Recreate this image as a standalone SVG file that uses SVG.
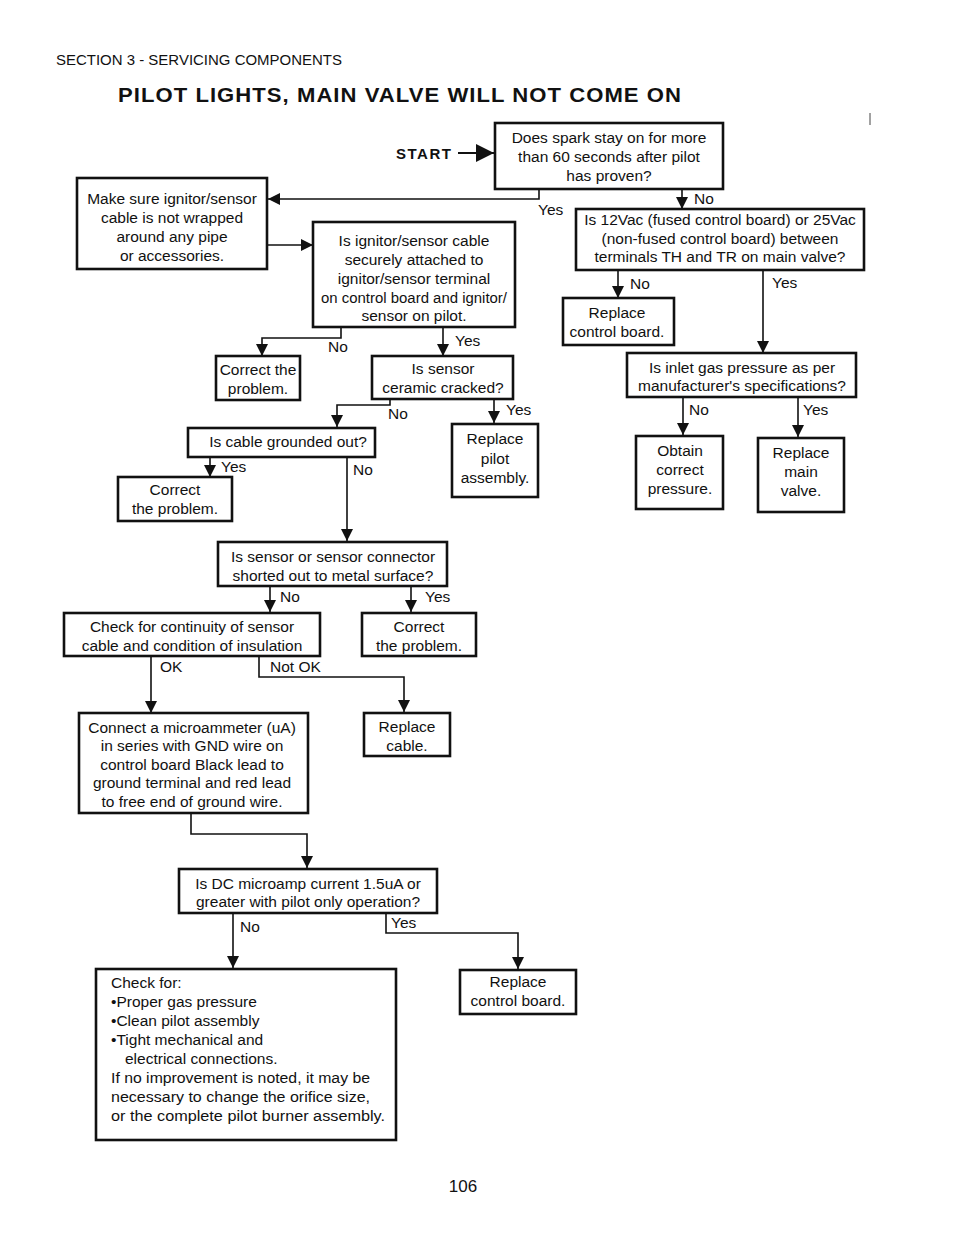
<svg xmlns="http://www.w3.org/2000/svg" width="954" height="1235" viewBox="0 0 954 1235">
<defs>
<marker id="ah" markerUnits="userSpaceOnUse" markerWidth="12" markerHeight="12" refX="12" refY="6" orient="auto">
<path d="M0,0 L12,6 L0,12 z" fill="#111"/>
</marker>
<marker id="ahb" markerUnits="userSpaceOnUse" markerWidth="18" markerHeight="18" refX="18" refY="9" orient="auto">
<path d="M0,0 L18,9 L0,18 z" fill="#111"/>
</marker>
<style>
text{font-family:"Liberation Sans",Arial,sans-serif;fill:#111;}
.t{font-size:15.5px;text-anchor:middle;}
.l{font-size:15.5px;}
.box{fill:#fff;stroke:#111;stroke-width:2.6;}
.c{fill:none;stroke:#111;stroke-width:1.6;marker-end:url(#ah);}
</style>
</defs>
<rect width="954" height="1235" fill="#fff"/>
<text x="56" y="65" style="font-size:14px" textLength="286" lengthAdjust="spacingAndGlyphs">SECTION 3 - SERVICING COMPONENTS</text>
<text x="118" y="102" style="font-size:21px;font-weight:bold;letter-spacing:1px" textLength="564" lengthAdjust="spacingAndGlyphs">PILOT LIGHTS, MAIN VALVE WILL NOT COME ON</text>
<line x1="870" y1="113" x2="870" y2="125" stroke="#444" stroke-width="1"/>
<text x="396" y="159" style="font-size:15px;font-weight:bold;letter-spacing:1.5px">START</text>

<g id="connectors">
<path class="c" d="M458,153 L494,153" style="marker-end:url(#ahb);stroke-width:2"/>
<path class="c" d="M539,189 L539,199 L268,199"/>
<path class="c" d="M268,245 L313,245"/>
<path class="c" d="M682,189 L682,209"/>
<path class="c" d="M618,270 L618,298"/>
<path class="c" d="M763,270 L763,353"/>
<path class="c" d="M683,397 L683,435"/>
<path class="c" d="M798,397 L798,437"/>
<path class="c" d="M341,327 L341,338 L262,338 L262,356"/>
<path class="c" d="M443,327 L443,356"/>
<path class="c" d="M390,399 L390,405 L337,405 L337,427"/>
<path class="c" d="M494,399 L494,423"/>
<path class="c" d="M210,457 L210,477"/>
<path class="c" d="M347,457 L347,541"/>
<path class="c" d="M270,586 L270,612"/>
<path class="c" d="M411,586 L411,612"/>
<path class="c" d="M151,656 L151,713"/>
<path class="c" d="M259,656 L259,677 L404,677 L404,712"/>
<path class="c" d="M191,813 L191,834 L307,834 L307,868"/>
<path class="c" d="M233,913 L233,968"/>
<path class="c" d="M386,913 L386,933 L518,933 L518,969"/>
</g>

<g id="n-spark">
<rect class="box" x="495" y="123" width="228" height="66"/>
<text class="t" x="609" y="143">Does spark stay on for more</text>
<text class="t" x="609" y="162">than 60 seconds after pilot</text>
<text class="t" x="609" y="181">has proven?</text>
</g>
<g id="n-makesure">
<rect class="box" x="77" y="178" width="190" height="91"/>
<text class="t" x="172" y="203.5">Make sure ignitor/sensor</text>
<text class="t" x="172" y="222.5">cable is not wrapped</text>
<text class="t" x="172" y="241.5">around any pipe</text>
<text class="t" x="172" y="260.5">or accessories.</text>
</g>
<g id="n-attached">
<rect class="box" x="313" y="222" width="202" height="105"/>
<text class="t" x="414" y="245.5">Is ignitor/sensor cable</text>
<text class="t" x="414" y="264.5">securely attached to</text>
<text class="t" x="414" y="283.5">ignitor/sensor terminal</text>
<text class="t" x="414" y="302.5" textLength="186" lengthAdjust="spacingAndGlyphs">on control board and ignitor/</text>
<text class="t" x="414" y="320.5">sensor on pilot.</text>
</g>
<g id="n-correct1">
<rect class="box" x="216" y="356" width="84" height="44"/>
<text class="t" x="258" y="374.5">Correct the</text>
<text class="t" x="258" y="393.5">problem.</text>
</g>
<g id="n-ceramic">
<rect class="box" x="372" y="356" width="141" height="43"/>
<text class="t" x="443" y="373.5">Is sensor</text>
<text class="t" x="443" y="392.5">ceramic cracked?</text>
</g>
<g id="n-grounded">
<rect class="box" x="188" y="428" width="187" height="29"/>
<text class="t" x="288" y="446.5">Is cable grounded out?</text>
</g>
<g id="n-replacepilot">
<rect class="box" x="452" y="424" width="86" height="73"/>
<text class="t" x="495" y="443.5">Replace</text>
<text class="t" x="495" y="463.5">pilot</text>
<text class="t" x="495" y="482.5">assembly.</text>
</g>
<g id="n-correct2">
<rect class="box" x="118" y="477" width="114" height="44"/>
<text class="t" x="175" y="494.5">Correct</text>
<text class="t" x="175" y="513.5">the problem.</text>
</g>
<g id="n-shorted">
<rect class="box" x="218" y="542" width="229" height="44"/>
<text class="t" x="333" y="561.5">Is sensor or sensor  connector</text>
<text class="t" x="333" y="580.5">shorted out to metal surface?</text>
</g>
<g id="n-continuity">
<rect class="box" x="64" y="613" width="256" height="43"/>
<text class="t" x="192" y="631.5">Check for continuity of sensor</text>
<text class="t" x="192" y="650.5">cable and condition of insulation</text>
</g>
<g id="n-correct3">
<rect class="box" x="362" y="613" width="114" height="43"/>
<text class="t" x="419" y="631.5">Correct</text>
<text class="t" x="419" y="650.5">the problem.</text>
</g>
<g id="n-connect">
<rect class="box" x="79" y="713" width="229" height="100"/>
<text class="t" x="192" y="732.5">Connect a microammeter (uA)</text>
<text class="t" x="192" y="750.5">in series with GND wire on</text>
<text class="t" x="192" y="769.5">control board Black lead to</text>
<text class="t" x="192" y="787.5">ground terminal and red lead</text>
<text class="t" x="192" y="806.5">to free end of ground wire.</text>
</g>
<g id="n-replacecable">
<rect class="box" x="364" y="713" width="86" height="43"/>
<text class="t" x="407" y="731.5">Replace</text>
<text class="t" x="407" y="750.5">cable.</text>
</g>
<g id="n-dc">
<rect class="box" x="179" y="869" width="258" height="44"/>
<text class="t" x="308" y="888.5">Is DC microamp current 1.5uA or</text>
<text class="t" x="308" y="906.5">greater with pilot only operation?</text>
</g>
<g id="n-checkfor">
<rect class="box" x="96" y="969" width="300" height="171"/>
<text class="l" x="111" y="987.5">Check for:</text>
<text class="l" x="111" y="1006.5">•Proper gas pressure</text>
<text class="l" x="111" y="1025.5">•Clean pilot assembly</text>
<text class="l" x="111" y="1044.5">•Tight mechanical and</text>
<text class="l" x="125" y="1063.5">electrical connections.</text>
<text class="l" x="111" y="1082.5" textLength="259" lengthAdjust="spacingAndGlyphs">If no improvement is noted, it may be</text>
<text class="l" x="111" y="1101.5" textLength="259" lengthAdjust="spacingAndGlyphs">necessary to change the orifice size,</text>
<text class="l" x="111" y="1120.5" textLength="274" lengthAdjust="spacingAndGlyphs">or the complete pilot burner  assembly.</text>
</g>
<g id="n-replacecb2">
<rect class="box" x="460" y="970" width="116" height="44"/>
<text class="t" x="518" y="986.5">Replace</text>
<text class="t" x="518" y="1005.5">control board.</text>
</g>
<g id="n-12vac">
<rect class="box" x="576" y="209" width="288" height="61"/>
<text class="t" x="720" y="224.5">Is 12Vac (fused control board) or 25Vac</text>
<text class="t" x="720" y="243.5">(non-fused control board) between</text>
<text class="t" x="720" y="261.5">terminals TH and TR on main valve?</text>
</g>
<g id="n-replacecb1">
<rect class="box" x="563" y="298" width="111" height="47"/>
<text class="t" x="617" y="317.5">Replace</text>
<text class="t" x="617" y="336.5">control board.</text>
</g>
<g id="n-inlet">
<rect class="box" x="627" y="353" width="229" height="44"/>
<text class="t" x="742" y="372.5">Is inlet gas pressure as per</text>
<text class="t" x="742" y="390.5">manufacturer's specifications?</text>
</g>
<g id="n-obtain">
<rect class="box" x="636" y="436" width="87" height="73"/>
<text class="t" x="680" y="455.5">Obtain</text>
<text class="t" x="680" y="474.5">correct</text>
<text class="t" x="680" y="493.5">pressure.</text>
</g>
<g id="n-replacemain">
<rect class="box" x="758" y="438" width="86" height="74"/>
<text class="t" x="801" y="457.5">Replace</text>
<text class="t" x="801" y="476.5">main</text>
<text class="t" x="801" y="495.5">valve.</text>
</g>

<g id="labels">
<text class="l" x="538" y="215">Yes</text>
<text class="l" x="694" y="203.5">No</text>
<text class="l" x="630" y="288.5">No</text>
<text class="l" x="772" y="287.5">Yes</text>
<text class="l" x="689" y="414.5">No</text>
<text class="l" x="803" y="414.5">Yes</text>
<text class="l" x="328" y="351.5">No</text>
<text class="l" x="455" y="345.5">Yes</text>
<text class="l" x="388" y="418.5">No</text>
<text class="l" x="506" y="414.5">Yes</text>
<text class="l" x="221" y="471.5">Yes</text>
<text class="l" x="353" y="474.5">No</text>
<text class="l" x="280" y="601.5">No</text>
<text class="l" x="425" y="601.5">Yes</text>
<text class="l" x="160" y="671.5">OK</text>
<text class="l" x="270" y="671.5">Not OK</text>
<text class="l" x="240" y="931.5">No</text>
<text class="l" x="391" y="927.5">Yes</text>
</g>
<text x="463" y="1192" style="font-size:17px;text-anchor:middle">106</text>
</svg>
